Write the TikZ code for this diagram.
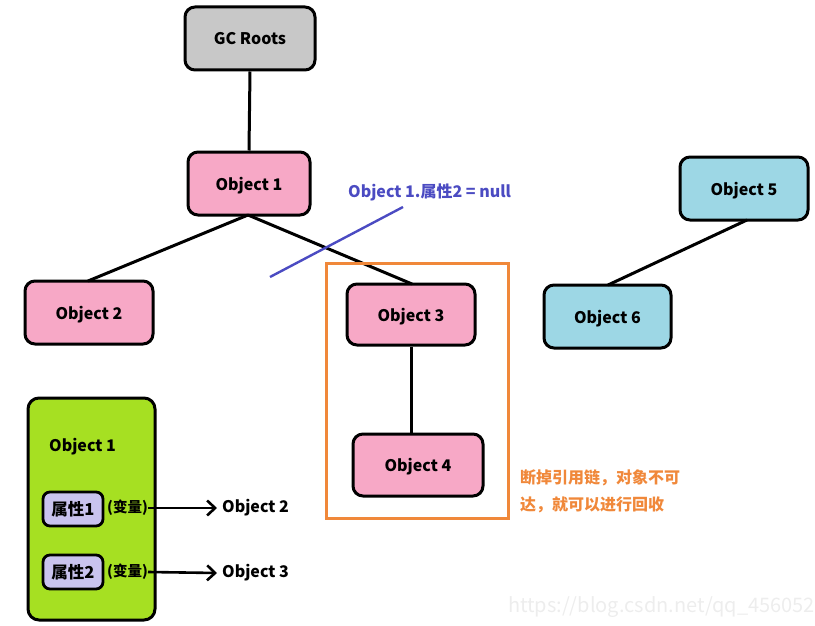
\documentclass[tikz,border=0pt]{standalone}
\usepackage{fontspec}
\setmainfont{Noto Sans CJK SC}
\usetikzlibrary{arrows.meta}
\definecolor{gcgray}{HTML}{C8C8C8}
\definecolor{objpink}{HTML}{F7A8C6}
\definecolor{objblue}{HTML}{9DD7E5}
\definecolor{boxgreen}{HTML}{A6E022}
\definecolor{attrlav}{HTML}{C9C3EE}
\definecolor{cutblue}{HTML}{4B4BC2}
\definecolor{noteorange}{HTML}{F0883A}
\definecolor{wmgray}{HTML}{EDEDED}
\tikzset{
  objbox/.style={draw=black, line width=3pt, rounded corners=10pt, font=\bfseries\fontsize{16}{18}\selectfont, inner sep=0pt, text depth=-2pt},
  attrbox/.style={draw=black, line width=2.8pt, rounded corners=7pt, fill=attrlav, font=\bfseries\fontsize{16.5}{18}\selectfont, inner sep=0pt, minimum width=60pt, minimum height=34pt},
  link/.style={line width=3pt, black},
  lbl/.style={font=\bfseries\fontsize{16}{18}\selectfont, inner sep=0pt},
  arr/.style={line width=2.6pt, black, -{Straight Barb[length=8pt,width=15pt,line width=2.6pt]}}
}
\begin{document}
\begin{tikzpicture}[x=1pt,y=-1pt]
\useasboundingbox (0,0) rectangle (815,626);
% tree nodes
\node[objbox, fill=gcgray, minimum width=130pt, minimum height=63pt] (gc) at (250,38.5) {GC Roots};
\node[objbox, fill=objpink, minimum width=122pt, minimum height=63pt] (o1) at (249,183.5) {Object 1};
\node[objbox, fill=objpink, minimum width=128pt, minimum height=63pt] (o2) at (89,312.5) {Object 2};
\node[objbox, fill=objpink, minimum width=128pt, minimum height=61pt] (o3) at (411,314.5) {Object 3};
\node[objbox, fill=objpink, minimum width=130pt, minimum height=62pt] (o4) at (418,465) {Object 4};
\node[objbox, fill=objblue, minimum width=128pt, minimum height=63pt] (o5) at (744,188.5) {Object 5};
\node[objbox, fill=objblue, minimum width=127pt, minimum height=63pt] (o6) at (607.5,316.5) {Object 6};
% connectors
\draw[link] (gc.south) -- (o1.north);
\coordinate (o1b) at (248,215);
\draw[link] (o1b) -- (88,281);
\draw[link] (o1b) -- (412,284);
\draw[link] (o3.south) -- (o4.north -| o3.south);
\coordinate (o5b) at (747,220);
\coordinate (o6t) at (608,285);
\draw[link] (o5b) -- (o6t);
% cut line and label
\coordinate (cutA) at (270,277);
\coordinate (cutB) at (403,207);
\draw[cutblue, line width=2.4pt] (cutA) -- (cutB);
\node[lbl, text=cutblue, anchor=west] (cutlbl) at (348,192) {Object 1.属性2 = null};
% orange frame
\node[draw=noteorange, line width=3pt, minimum width=182pt, minimum height=255pt, inner sep=0pt] (frame) at (417,390.5) {};
\node[lbl, text=noteorange, anchor=west, font=\bfseries\fontsize{16}{18}\selectfont] (note1) at (520,478) {断掉引用链，对象不可};
\node[lbl, text=noteorange, anchor=west, font=\bfseries\fontsize{16}{18}\selectfont] (note2) at (520,505) {达，就可以进行回收};
% green object box
\node[draw=black, line width=3pt, rounded corners=11pt, fill=boxgreen, minimum width=127pt, minimum height=222pt, inner sep=0pt] (gbox) at (91.5,509) {};
\node[lbl, anchor=west] (gtitle) at (49,447) {Object 1};
\node[attrbox] (a1) at (73,509) {属性1};
\node[attrbox] (a2) at (73,572) {属性2};
\node[lbl, anchor=west, font=\bfseries\fontsize{14.5}{16}\selectfont] (v1) at (107,508) {(变量)};
\node[lbl, anchor=west, font=\bfseries\fontsize{14.5}{16}\selectfont] (v2) at (107,572) {(变量)};
\node[lbl, anchor=west] (t2) at (222,508) {Object 2};
\node[lbl, anchor=west] (t3) at (222,573) {Object 3};
\draw[arr] (v1.east) -- ([xshift=-5pt]t2.west);
\draw[arr] (v2.east) -- ([xshift=-5pt]t3.west);
% watermark
\node[text=wmgray, font=\fontsize{20}{22}\selectfont, anchor=east, inner sep=0pt] (wm) at (815,607) {https://blog.csdn.net/qq\_456052};
\end{tikzpicture}
\end{document}
